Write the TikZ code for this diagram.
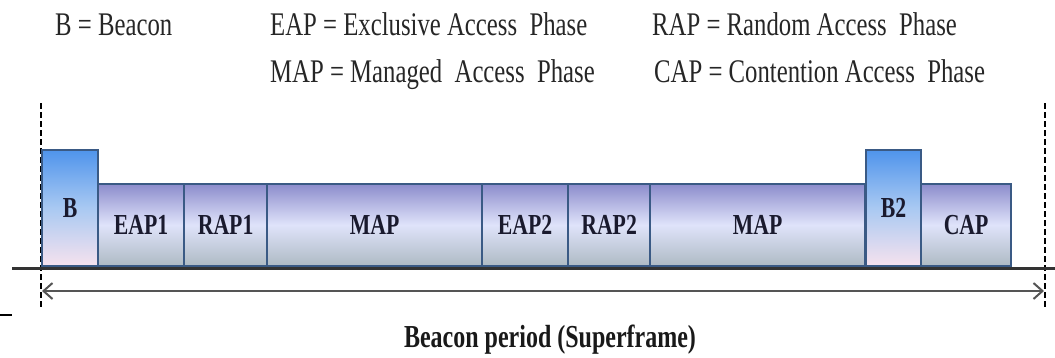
\documentclass[tikz,border=0pt]{standalone}
\usepackage{fontspec}
\setmainfont[FakeStretch=0.75]{Liberation Serif}
\usetikzlibrary{arrows.meta}
\definecolor{edgec}{HTML}{3A5A85}
\definecolor{textc}{HTML}{1A1A2E}
\definecolor{phtop}{HTML}{8C8CCC}
\definecolor{phmid}{HTML}{DFE3FA}
\definecolor{phbot}{HTML}{AEBAC4}
\definecolor{btop}{HTML}{4F94EC}
\definecolor{bmid}{HTML}{A9C9F2}
\definecolor{bbot}{HTML}{F6E2EE}
\definecolor{linec}{HTML}{333333}
\definecolor{arrc}{HTML}{555555}
\begin{document}
\begin{tikzpicture}[x=1pt,y=-1pt,
  phasebox/.style={draw=edgec, line width=2.2pt, top color=phtop, bottom color=phbot, middle color=phmid,
    minimum height=82pt, anchor=south west, inner sep=0pt, text=textc,
    font=\fontsize{29}{29}\selectfont\bfseries},
  beaconbox/.style={phasebox, top color=btop, bottom color=bbot, middle color=bmid, minimum height=116pt},
  legend/.style={anchor=base west, inner sep=0pt, text=black!85, font=\fontsize{33}{33}\selectfont},
  ground/.style={line width=3pt, draw=linec},
  marker/.style={line width=1.5pt, dash pattern=on 6pt off 3pt, draw=black},
  period/.style={line width=2pt, draw=arrc, {Straight Barb[length=9pt,width=16pt]}-{Straight Barb[length=9pt,width=16pt]}}
]
\useasboundingbox (0,0) rectangle (1055,357);
% legend
\node[legend] (lb) at (55,35) {B = Beacon};
\node[legend] (le) at (270,35) {EAP = Exclusive Access\ \ Phase};
\node[legend] (lr) at (652,35) {RAP = Random Access\ \ Phase};
\node[legend] (lm) at (270,82) {MAP = Managed\ \ Access\ \ Phase};
\node[legend] (lc) at (654,82) {CAP = Contention Access\ \ Phase};
% dashed markers
\coordinate (dlt) at (41,103); \coordinate (dlb) at (41,307);
\coordinate (drt) at (1045,103); \coordinate (drb) at (1045,307);
\draw[marker] (dlt) -- (dlb);
\draw[marker] (drt) -- (drb);
% boxes
\node[beaconbox, minimum width=56pt] (b1) at (41,267) {B};
\node[phasebox, minimum width=86pt] (eap1) at (97,267) {EAP1};
\node[phasebox, minimum width=83pt] (rap1) at (183,267) {RAP1};
\node[phasebox, minimum width=215pt] (map1) at (266,267) {MAP};
\node[phasebox, minimum width=86pt] (eap2) at (481,267) {EAP2};
\node[phasebox, minimum width=82pt] (rap2) at (567,267) {RAP2};
\node[phasebox, minimum width=215pt] (map2) at (649,267) {MAP};
\node[beaconbox, minimum width=55pt] (b2) at (865,267) {B2};
\node[phasebox, minimum width=90pt] (cap) at (920,267) {CAP};
% ground line
\coordinate (gl) at (12,268); \coordinate (gr) at (1055,268);
\draw[ground] (gl) -- (gr);
% small stub
\coordinate (sl) at (0,315); \coordinate (sr) at (12,315);
\draw[line width=2pt, draw=black] (sl) -- (sr);
% period arrow
\coordinate (al) at (42,291); \coordinate (ar) at (1044,291);
\draw[period] (al) -- (ar);
\node[anchor=base, inner sep=0pt, text=black!90, font=\fontsize{32}{32}\selectfont\bfseries] (bp) at (550,347) {Beacon period (Superframe)};
\end{tikzpicture}
\end{document}
